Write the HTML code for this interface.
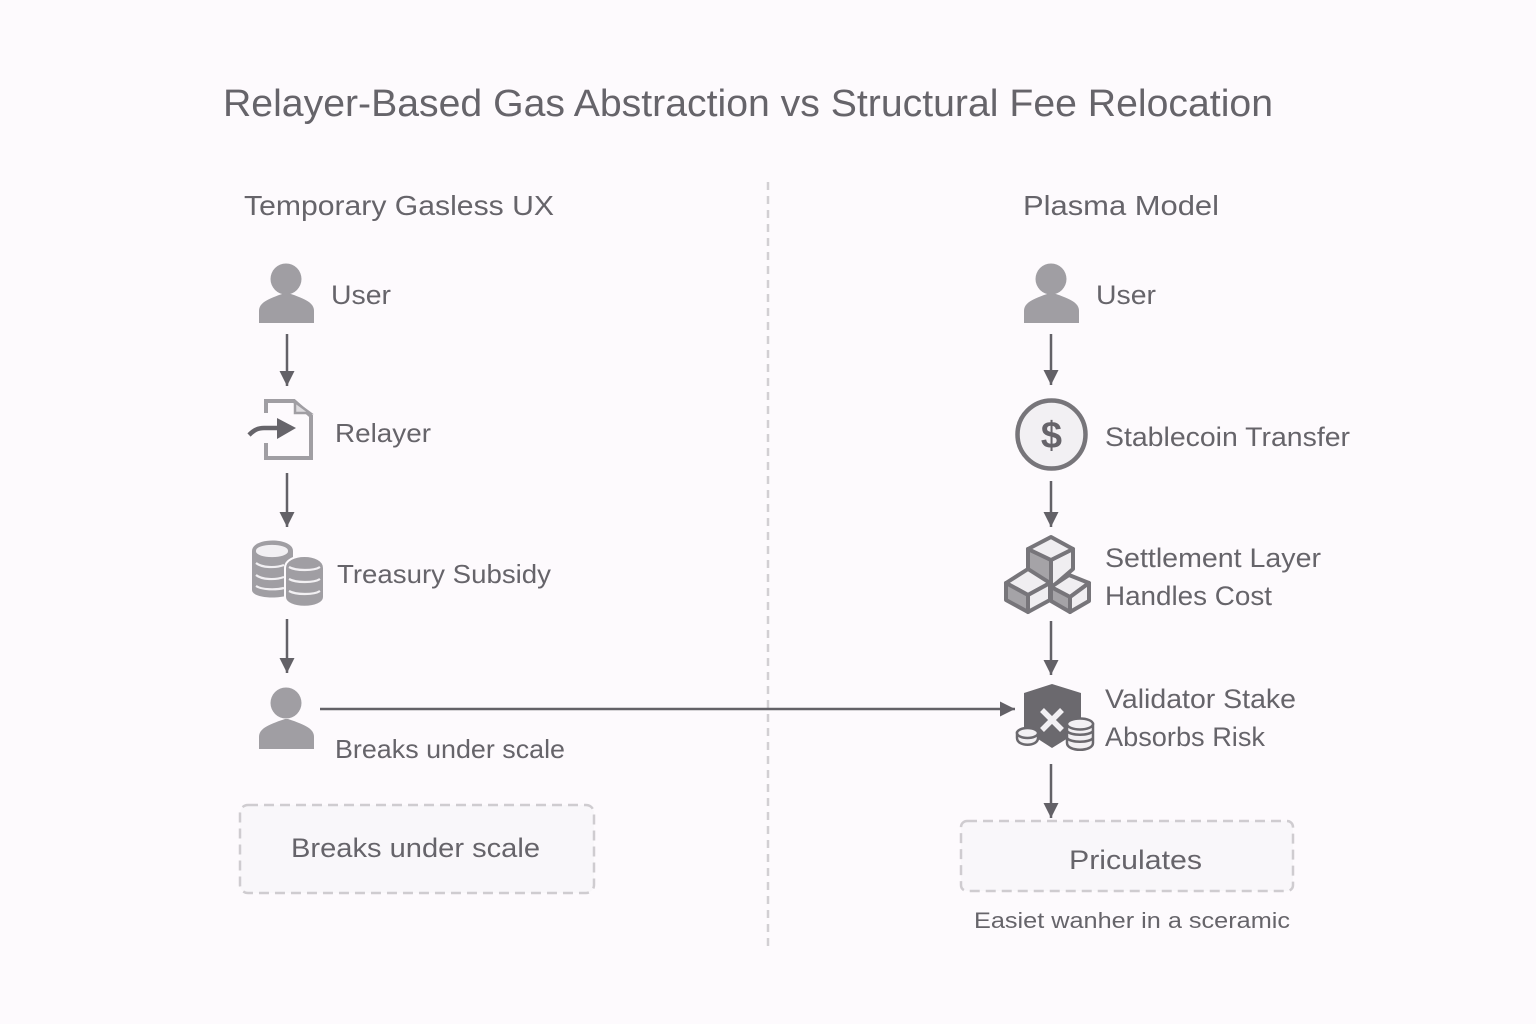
<!DOCTYPE html>
<html><head><meta charset="utf-8"><style>
html,body{margin:0;padding:0;background:#fdfafd}
svg{display:block}
text{font-family:"Liberation Sans",sans-serif;fill:#66646a}
</style></head><body>
<svg width="1536" height="1024" viewBox="0 0 1536 1024" xmlns="http://www.w3.org/2000/svg">
<defs>
<marker id="a" markerUnits="userSpaceOnUse" markerWidth="15" markerHeight="15" refX="15" refY="7.500" orient="auto"><path d="M0 0L15 7.500L0 15Z" fill="#636167"/></marker>
</defs>
<rect width="1536" height="1024" fill="#fdfafd"/>
<text x="223" y="116" font-size="38" textLength="1050" lengthAdjust="spacingAndGlyphs">Relayer-Based Gas Abstraction vs Structural Fee Relocation</text>
<text x="244" y="215" font-size="28" textLength="310" lengthAdjust="spacingAndGlyphs">Temporary Gasless UX</text>
<text x="1023" y="215" font-size="28" textLength="196" lengthAdjust="spacingAndGlyphs">Plasma Model</text>
<line x1="768" y1="182" x2="768" y2="948" stroke="#d2cfd3" stroke-width="2.500" stroke-dasharray="8 6"/>

<!-- arrows -->
<g stroke="#636167" stroke-width="2.500" fill="none">
<line x1="287" y1="334" x2="287" y2="386" marker-end="url(#a)"/>
<line x1="287" y1="473" x2="287" y2="527" marker-end="url(#a)"/>
<line x1="287" y1="619" x2="287" y2="673" marker-end="url(#a)"/>
<line x1="1051" y1="334" x2="1051" y2="385" marker-end="url(#a)"/>
<line x1="1051" y1="481" x2="1051" y2="527" marker-end="url(#a)"/>
<line x1="1051" y1="621" x2="1051" y2="675" marker-end="url(#a)"/>
<line x1="1051" y1="764" x2="1051" y2="818" marker-end="url(#a)"/>
<line x1="320" y1="709" x2="1015" y2="709" marker-end="url(#a)"/>
</g>

<!-- users -->
<g fill="#a09ea3">
<circle cx="286" cy="279" r="15.500"/><path d="M259 323V311C259 303 267 299 285 293H288C306 299 314 303 314 311V323Z"/>
<circle cx="1051" cy="279" r="15.500"/><path d="M1024 323V311C1024 303 1032 299 1050 293H1053C1071 299 1079 303 1079 311V323Z"/>
<circle cx="286" cy="703" r="15.500"/><path d="M259 749V737C259 729 267 725 285 719H288C306 725 314 729 314 737V749Z"/>
</g>
<text x="331" y="304" font-size="27" textLength="60" lengthAdjust="spacingAndGlyphs">User</text>
<text x="1096" y="304" font-size="27" textLength="60" lengthAdjust="spacingAndGlyphs">User</text>

<!-- relayer icon -->
<path d="M266 413V401H294L311 416V458H266V443" fill="none" stroke="#a09ea3" stroke-width="4"/>
<path d="M295 402V413H310Z" fill="#dedcdf" stroke="#a09ea3" stroke-width="2.500"/>
<path d="M249 435C254 430 258 428 264 428H284" fill="none" stroke="#66646a" stroke-width="4.500"/>
<path d="M277 418L296 428L277 439Z" fill="#66646a"/>
<text x="335" y="442" font-size="26" textLength="96" lengthAdjust="spacingAndGlyphs">Relayer</text>

<!-- treasury icon -->
<path d="M252 551C252 537 293 537 293 551V590C293 600 252 600 252 590Z" fill="#a09ea3"/>
<path d="M285 568C285 552 324 552 324 568V597C324 610 285 610 285 597Z" fill="#a09ea3" stroke="#fdfafd" stroke-width="2"/>
<g fill="none" stroke="#f2f0f3" stroke-width="2.200">
<ellipse cx="272" cy="551" rx="15" ry="5" fill="#f2f0f3"/>
<path d="M256 563C262 568 276 568 284 565M256 575C262 580 276 580 284 577M256 586C262 590 276 590 284 588"/>
<path d="M289 567C296 571 314 571 320 567M289 579C296 583 314 583 320 579M289 591C296 595 314 595 320 591"/>
</g>
<text x="337" y="583" font-size="26" textLength="214" lengthAdjust="spacingAndGlyphs">Treasury Subsidy</text>

<text x="335" y="758" font-size="26" textLength="230" lengthAdjust="spacingAndGlyphs">Breaks under scale</text>
<rect x="240" y="805" width="354" height="88" rx="8" fill="#f9f7fa" stroke="#cfccd0" stroke-width="2.500" stroke-dasharray="10 6"/>
<text x="291" y="857" font-size="27" textLength="249" lengthAdjust="spacingAndGlyphs">Breaks under scale</text>

<!-- dollar -->
<circle cx="1051.500" cy="434.500" r="34" fill="#f2f0f3" stroke="#77757a" stroke-width="4.500"/>
<text x="1051.500" y="448" font-size="38" font-weight="bold" text-anchor="middle" fill="#6d6b70">$</text>
<text x="1105" y="446" font-size="27" textLength="245" lengthAdjust="spacingAndGlyphs">Stablecoin Transfer</text>

<!-- cubes -->
<g stroke="#77757a" stroke-width="4" stroke-linejoin="round">
<path d="M1051 560L1073 549V569L1051 588Z" fill="#f0eef1"/>
<path d="M1028 549L1051 560V588L1028 572Z" fill="#a5a3a7"/>
<path d="M1028 549L1051 537L1073 549L1051 560Z" fill="#f0eef1"/>
<path d="M1006 583L1028 569L1050 583L1028 595Z" fill="#f0eef1"/>
<path d="M1006 583L1028 595V612L1006 600Z" fill="#a5a3a7"/>
<path d="M1028 595L1050 583V600L1028 612Z" fill="#f0eef1"/>
<path d="M1051 587L1069 575L1089 583L1070 597Z" fill="#f0eef1"/>
<path d="M1051 587L1070 597V612L1051 601Z" fill="#a5a3a7"/>
<path d="M1070 597L1089 583V601L1070 612Z" fill="#f0eef1"/>
</g>
<text x="1105" y="567" font-size="27" textLength="216" lengthAdjust="spacingAndGlyphs">Settlement Layer</text>
<text x="1105" y="605" font-size="27" textLength="167" lengthAdjust="spacingAndGlyphs">Handles Cost</text>

<!-- validator -->
<path d="M1024 693L1052 684L1081 693V730L1052 748L1024 730Z" fill="#6b696e"/>
<path d="M1042 710L1062 730M1062 710L1042 730" stroke="#f2f0f3" stroke-width="5.500"/>
<g stroke="#6b696e" stroke-width="2.500" fill="#f2f0f3">
<path d="M1017 733V738C1017 747 1038 747 1038 738V733Z"/><ellipse cx="1027.500" cy="733" rx="10.500" ry="5"/>
<path d="M1067 724V743C1067 752 1093 752 1093 743V724Z"/><ellipse cx="1080" cy="724" rx="13" ry="5.500"/>
<path d="M1067 731C1071 736 1089 736 1093 731M1067 738C1071 743 1089 743 1093 738" fill="none"/>
</g>
<text x="1105" y="708" font-size="27" textLength="191" lengthAdjust="spacingAndGlyphs">Validator Stake</text>
<text x="1105" y="746" font-size="27" textLength="160" lengthAdjust="spacingAndGlyphs">Absorbs Risk</text>

<rect x="961" y="821" width="332" height="70" rx="6" fill="#f9f7fa" stroke="#cfccd0" stroke-width="2.500" stroke-dasharray="10 6"/>
<text x="1069" y="869" font-size="27" textLength="133" lengthAdjust="spacingAndGlyphs">Priculates</text>
<text x="974" y="928" font-size="22" textLength="316" lengthAdjust="spacingAndGlyphs">Easiet wanher in a sceramic</text>
</svg>
</body></html>
